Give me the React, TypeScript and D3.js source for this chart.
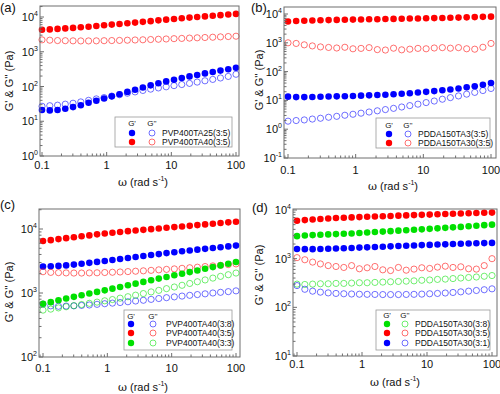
import React from 'react';
import * as d3 from 'd3';

// angular frequency (rad/s), same sweep in every panel
const freq = [0.1, 0.132, 0.174, 0.229, 0.302, 0.398, 0.525, 0.692, 0.912, 1.2, 1.58, 2.09, 2.75, 3.63, 4.79, 6.31, 8.32, 11, 14.5, 19.1, 25.1, 33.1, 43.7, 57.5, 75.9, 100];
const xTickValues = [0.1, 1, 10, 100];
const xTickLabels = ['0.1', '1', '10', '100'];

// (a)
const aPvp25G1 = [21, 20.5, 21, 23, 25.5, 29, 34, 39, 45, 52, 60, 70, 81, 94, 108, 124, 140, 157, 175, 195, 215, 238, 262, 287, 315, 345];
const aPvp25G2 = [27, 28, 29, 31, 33, 36, 40, 44, 48, 53, 58, 64, 70, 77, 84, 91, 98, 106, 114, 123, 134, 146, 160, 176, 195, 225];
const aPvp40G1 = [4300, 4400, 4550, 4700, 4850, 5050, 5250, 5500, 5800, 6050, 6300, 6600, 6900, 7250, 7600, 8000, 8400, 8800, 9200, 9600, 10000, 10400, 10900, 11300, 11800, 12300];
const aPvp40G2 = [2200, 2150, 2100, 2080, 2060, 2050, 2050, 2060, 2080, 2100, 2120, 2150, 2180, 2210, 2250, 2290, 2330, 2380, 2420, 2470, 2520, 2570, 2620, 2680, 2740, 2800];

// (b)
const bPdda3G1 = [13.5, 13, 13, 13.2, 13.4, 13.6, 13.8, 14, 14.3, 14.6, 15, 15.4, 15.8, 16.3, 17, 17.8, 18.7, 19.8, 21, 22.5, 24, 26, 28.5, 31, 35, 40];
const bPdda3G2 = [1.9, 2.0, 2.1, 2.25, 2.4, 2.6, 2.8, 3.05, 3.3, 3.6, 3.95, 4.35, 4.8, 5.3, 5.9, 6.6, 7.4, 8.4, 9.5, 11, 12.5, 14.3, 16.5, 19, 22, 26];
const bPdda30G1 = [5500, 5700, 5850, 5950, 6050, 6150, 6250, 6300, 6400, 6450, 6550, 6600, 6700, 6750, 6850, 6950, 7000, 7100, 7200, 7300, 7400, 7500, 7650, 7800, 7950, 8100];
const bPdda30G2 = [1000, 950, 850, 780, 720, 690, 660, 700, 620, 640, 680, 580, 560, 650, 570, 600, 640, 620, 660, 680, 650, 680, 620, 600, 700, 950];

// (c)
const cR38G1 = [2600, 2620, 2650, 2700, 2780, 2870, 2960, 3060, 3170, 3280, 3400, 3520, 3650, 3780, 3920, 4050, 4200, 4340, 4480, 4620, 4760, 4900, 5050, 5200, 5350, 5500];
const cR38G2 = [670, 630, 620, 625, 630, 640, 650, 665, 680, 695, 710, 730, 750, 770, 795, 820, 845, 870, 895, 920, 945, 970, 1000, 1025, 1050, 1080];
const cR35G1 = [6500, 6700, 6950, 7200, 7450, 7700, 7950, 8250, 8500, 8750, 9000, 9250, 9450, 9700, 9950, 10200, 10450, 10700, 10950, 11200, 11500, 11800, 12100, 12400, 12700, 13000];
const cR35G2 = [2150, 2100, 2080, 2060, 2050, 2050, 2060, 2070, 2090, 2110, 2130, 2160, 2190, 2220, 2260, 2300, 2340, 2380, 2430, 2480, 2530, 2590, 2650, 2710, 2780, 2850];
const cR33G1 = [680, 720, 770, 820, 870, 920, 980, 1040, 1100, 1170, 1240, 1320, 1400, 1490, 1580, 1680, 1780, 1890, 2000, 2120, 2250, 2390, 2540, 2700, 2870, 3050];
const cR33G2 = [540, 560, 585, 610, 635, 660, 690, 720, 755, 790, 830, 875, 925, 980, 1040, 1100, 1170, 1240, 1320, 1410, 1500, 1600, 1710, 1820, 1930, 2050];

// (d)
const dR38G1 = [2900, 3000, 3050, 3100, 3150, 3200, 3250, 3300, 3380, 3450, 3520, 3600, 3680, 3760, 3840, 3920, 4000, 4100, 4200, 4300, 4400, 4500, 4620, 4750, 4880, 5000];
const dR38G2 = [300, 295, 300, 305, 305, 310, 310, 315, 320, 320, 325, 330, 335, 340, 345, 350, 360, 365, 375, 380, 390, 400, 410, 420, 435, 450];
const dR35G1 = [6000, 6200, 6400, 6550, 6700, 6850, 6950, 7050, 7150, 7250, 7350, 7450, 7550, 7650, 7750, 7850, 7950, 8050, 8150, 8250, 8350, 8450, 8550, 8650, 8750, 8850];
const dR35G2 = [1050, 950, 850, 780, 720, 690, 660, 720, 620, 650, 690, 590, 570, 660, 580, 610, 650, 630, 670, 700, 660, 680, 620, 610, 720, 1000];
const dR31G1 = [1580, 1570, 1570, 1580, 1600, 1620, 1640, 1660, 1690, 1710, 1740, 1760, 1790, 1820, 1840, 1870, 1900, 1920, 1950, 1970, 2000, 2020, 2050, 2070, 2090, 2110];
const dR31G2 = [280, 235, 215, 205, 198, 193, 190, 188, 186, 185, 184, 183, 183, 183, 184, 185, 187, 190, 193, 197, 202, 208, 215, 222, 230, 240];

const BLUE = '#0000ff';
const RED = '#ff0000';
const GREEN = '#00e000';
const FONT = 'Arial, "Liberation Sans", sans-serif';

type Series = { label: string; color: string; g1: number[]; g2: number[] };
type Panel = {
  tag: string;
  tagPos: [number, number];
  frame: [number, number, number, number];
  xRange: [number, number];
  yDom: [number, number];
  yRange: [number, number];
  xLabY: number;
  xTitle: [number, number];
  yTitle: [number, number];
  legend: { box: [number, number, number, number]; head: number; rows: number[]; fx: number; ox: number; tx: number };
  series: Series[];
};

const panels: Panel[] = [
  {
    tag: '(a)', tagPos: [0, 12],
    frame: [40, 6, 239, 156], xRange: [42, 236], yDom: [1, 1e4], yRange: [156, 17],
    xLabY: 169, xTitle: [143, 186], yTitle: [13, 81],
    legend: { box: [115, 117, 232, 147], head: 123, rows: [133, 142], fx: 132, ox: 152, tx: 162 },
    series: [
      { label: 'PVP400TA25(3:5)', color: BLUE, g1: aPvp25G1, g2: aPvp25G2 },
      { label: 'PVP400TA40(3:5)', color: RED, g1: aPvp40G1, g2: aPvp40G2 },
    ],
  },
  {
    tag: '(b)', tagPos: [251, 12],
    frame: [284, 7, 496, 158], xRange: [288, 491], yDom: [0.1, 1e4], yRange: [158, 14],
    xLabY: 174, xTitle: [393, 190], yTitle: [263, 80],
    legend: { box: [376, 118, 490, 148], head: 125, rows: [134, 143], fx: 389, ox: 408, tx: 418 },
    series: [
      { label: 'PDDA150TA3(3:5)', color: BLUE, g1: bPdda3G1, g2: bPdda3G2 },
      { label: 'PDDA150TA30(3:5)', color: RED, g1: bPdda30G1, g2: bPdda30G2 },
    ],
  },
  {
    tag: '(c)', tagPos: [0, 209],
    frame: [39, 209, 240, 357], xRange: [43, 236], yDom: [100, 1e4], yRange: [357, 229],
    xLabY: 372, xTitle: [143, 391], yTitle: [13, 292],
    legend: { box: [124, 310, 232, 350], head: 316, rows: [324, 333, 343], fx: 131, ox: 153, tx: 166 },
    series: [
      { label: 'PVP400TA40(3:8)', color: BLUE, g1: cR38G1, g2: cR38G2 },
      { label: 'PVP400TA40(3:5)', color: RED, g1: cR35G1, g2: cR35G2 },
      { label: 'PVP400TA40(3:3)', color: GREEN, g1: cR33G1, g2: cR33G2 },
    ],
  },
  {
    tag: '(d)', tagPos: [252, 212],
    frame: [293, 209, 497, 356], xRange: [297, 492], yDom: [10, 1e4], yRange: [356, 210],
    xLabY: 368, xTitle: [395, 386], yTitle: [263, 275],
    legend: { box: [376, 310, 490, 350], head: 315, rows: [324, 333, 343], fx: 387, ox: 405, tx: 415 },
    series: [
      { label: 'PDDA150TA30(3:8)', color: GREEN, g1: dR38G1, g2: dR38G2 },
      { label: 'PDDA150TA30(3:5)', color: RED, g1: dR35G1, g2: dR35G2 },
      { label: 'PDDA150TA30(3:1)', color: BLUE, g1: dR31G1, g2: dR31G2 },
    ],
  },
];

function logTicks(scale: d3.ScaleLogarithmic<number, number>, lo: number, hi: number) {
  const out: { v: number; p: number; major: boolean }[] = [];
  for (let k = -3; k <= 5; k++) {
    for (let m = 1; m <= 9; m++) {
      const v = m * Math.pow(10, k);
      const p = scale(v);
      if (p >= lo - 0.5 && p <= hi + 0.5) out.push({ v, p, major: m === 1 });
    }
  }
  return out;
}

function ChartPanel({ p }: { p: Panel }) {
  const [fx0, fy0, fx1, fy1] = p.frame;
  const x = d3.scaleLog().domain([0.1, 100]).range(p.xRange);
  const y = d3.scaleLog().domain(p.yDom).range(p.yRange);
  const xt = logTicks(x, fx0, fx1);
  const yt = logTicks(y, fy0, fy1);
  const axisColor = '#6e6e6e';
  const lg = p.legend;

  return (
    <g>
      <text x={p.tagPos[0]} y={p.tagPos[1]} fontSize={13} fontFamily={FONT} fill="#111">{p.tag}</text>

      {/* markers */}
      {p.series.map((s, si) => (
        <g key={si}>
          {freq.map((f, i) => (
            <circle key={'f' + i} cx={x(f)} cy={y(s.g1[i])} r={3.3} fill={s.color} />
          ))}
          {freq.map((f, i) => (
            <circle key={'o' + i} cx={x(f)} cy={y(s.g2[i])} r={3.1} fill="none" stroke={s.color} strokeWidth={0.8} strokeOpacity={0.7} />
          ))}
        </g>
      ))}

      {/* frame */}
      <rect x={fx0} y={fy0} width={fx1 - fx0} height={fy1 - fy0} fill="none" stroke={axisColor} strokeWidth={1} />
      {xt.map((t, i) => (
        <line key={'xt' + i} x1={t.p} x2={t.p} y1={fy1} y2={fy1 - (t.major ? 4 : 2.5)} stroke={axisColor} strokeWidth={1} />
      ))}
      {yt.map((t, i) => (
        <line key={'yt' + i} x1={fx0} x2={fx0 + (t.major ? 4 : 2.5)} y1={t.p} y2={t.p} stroke={axisColor} strokeWidth={1} />
      ))}

      {/* tick labels */}
      {xTickValues.map((v, i) => (
        <text key={'xl' + i} x={x(v)} y={p.xLabY} fontSize={11} fontFamily={FONT} textAnchor="middle" fill="#111">{xTickLabels[i]}</text>
      ))}
      {yt.filter(t => t.major).map((t, i) => (
        <text key={'yl' + i} x={fx0 - 2} y={t.p + 4} fontSize={11} fontFamily={FONT} textAnchor="end" fill="#111">
          10<tspan fontSize={7} dy={-5}>{Math.round(Math.log10(t.v))}</tspan>
        </text>
      ))}

      {/* axis titles */}
      <text x={p.xTitle[0]} y={p.xTitle[1]} fontSize={11} fontFamily={FONT} textAnchor="middle" fill="#111">
        <tspan fontFamily="'DejaVu Serif', serif">ω</tspan> (rad s<tspan fontSize={7} dy={-5}>-1</tspan><tspan dy={5}>)</tspan>
      </text>
      <text transform={`translate(${p.yTitle[0]},${p.yTitle[1]}) rotate(-90)`} fontSize={11} fontFamily={FONT} textAnchor="middle" fill="#111">
        G' &amp; G'' (Pa)
      </text>

      {/* legend */}
      <rect x={lg.box[0]} y={lg.box[1]} width={lg.box[2] - lg.box[0]} height={lg.box[3] - lg.box[1]} fill="#fff" stroke="#9a9a9a" strokeWidth={0.8} />
      <text x={lg.fx} y={lg.head + 3} fontSize={8} fontFamily={FONT} textAnchor="middle" fill="#111">G'</text>
      <text x={lg.ox} y={lg.head + 3} fontSize={8} fontFamily={FONT} textAnchor="middle" fill="#111">G''</text>
      {p.series.map((s, si) => (
        <g key={'lg' + si}>
          <circle cx={lg.fx} cy={lg.rows[si]} r={3.2} fill={s.color} />
          <circle cx={lg.ox} cy={lg.rows[si]} r={3} fill="none" stroke={s.color} strokeWidth={0.8} strokeOpacity={0.7} />
          <text x={lg.tx} y={lg.rows[si] + 3} fontSize={8.5} fontFamily={FONT} fill="#111">{s.label}</text>
        </g>
      ))}
    </g>
  );
}

export default function App() {
  return (
    <svg width={500} height={394} style={{ position: 'absolute', left: 0, top: 0, background: '#fff' }}>
      {panels.map((p, i) => (
        <ChartPanel key={i} p={p} />
      ))}
    </svg>
  );
}
